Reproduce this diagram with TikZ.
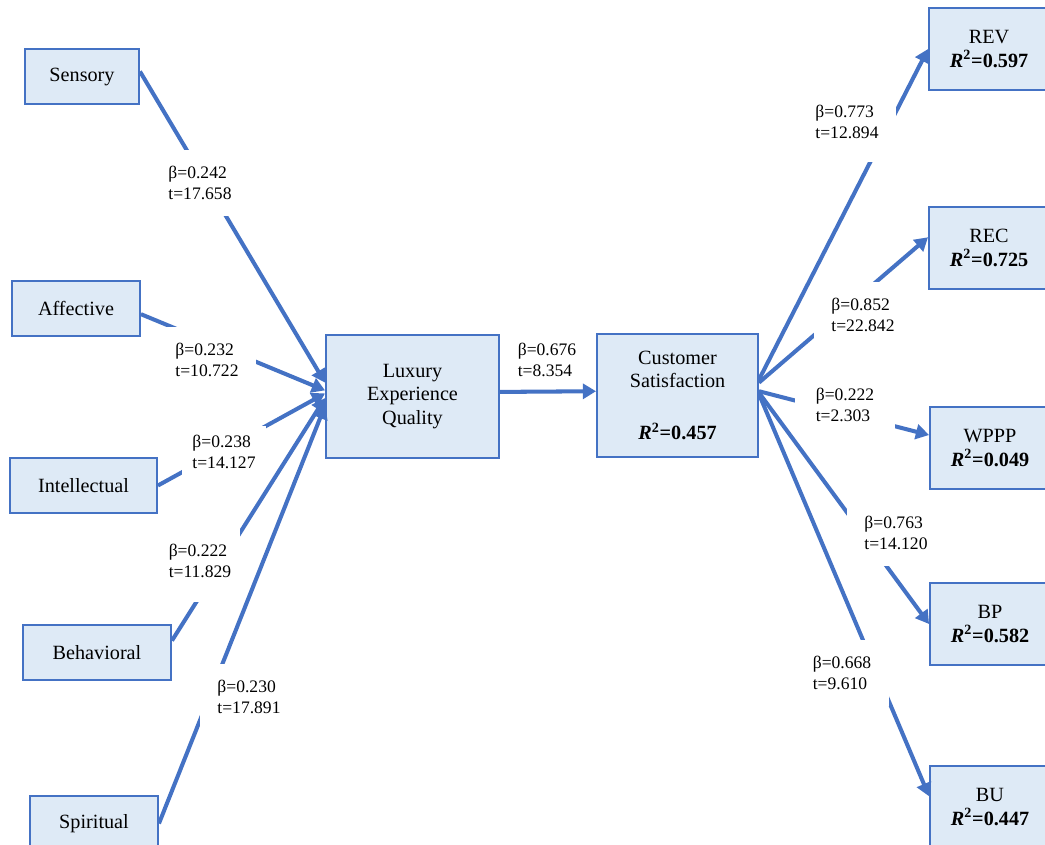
\documentclass[tikz,border=0pt]{standalone}
\usepackage[svgnames]{xcolor}
\usepackage{fontspec}
\setmainfont{Liberation Serif}
\usetikzlibrary{arrows.meta}
\definecolor{pathBlue}{HTML}{4472C4}
\definecolor{constructFill}{HTML}{DEEAF6}
\newcommand{\rsq}[1]{\textbf{\textit{R}\textsuperscript{2}=#1}}

\begin{document}
\begin{tikzpicture}[
  x=0.02cm,
  y=-0.02cm,
  construct/.style={
    draw=pathBlue,
    line width=1.1pt,
    fill=constructFill,
    align=center,
    font=\fontsize{11.5}{13.5}\selectfont,
    minimum height=1.1cm,
  },
  outcome/.style={
    construct,
    minimum width=2.4cm,
    minimum height=1.64cm,
  },
  coef/.style={
    fill=white,
    align=left,
    inner xsep=10pt,
    inner ysep=9pt,
    font=\fontsize{10}{12}\selectfont,
  },
  effect/.style={
    draw=pathBlue,
    line width=2.3pt,
    -{Triangle[length=7.5pt,width=8.5pt]},
  },
]
\useasboundingbox (0,0) rectangle (1045,845);
\node[construct,minimum width=2.28cm] (sens) at (82,76.5) {Sensory};
\node[construct,minimum width=2.56cm] (aff) at (76,308.5) {Affective};
\node[construct,minimum width=2.94cm] (intel) at (83.5,485.5) {Intellectual};
\node[construct,minimum width=2.96cm] (behav) at (97,652.5) {Behavioral};
\node[construct,minimum width=2.56cm] (spir) at (94,823.5) {Spiritual};
\node[construct,minimum width=3.46cm,minimum height=2.46cm] (leq) at (412.5,396.5) {Luxury\\Experience\\Quality};
\node[construct,minimum width=3.22cm,minimum height=2.46cm] (cs) at (677.5,395.5) {Customer\\Satisfaction\\[16pt]\rsq{0.457}};
\node[outcome] (rev) at (989,49) {REV\\\rsq{0.597}};
\node[outcome] (rec) at (989,248) {REC\\\rsq{0.725}};
\node[outcome] (wppp) at (990,448) {WPPP\\\rsq{0.049}};
\node[outcome] (bp) at (990,624) {BP\\\rsq{0.582}};
\node[outcome] (bu) at (990,807) {BU\\\rsq{0.447}};

\draw[effect] (sens.5) -- (leq.171);
\draw[effect] (aff.-5) -- (leq.176);
\draw[effect] (intel.east) -- (leq.178);
\draw[effect] (behav.9) -- (leq.181);
\draw[effect] (spir.east) -- (leq.186);
\draw[effect] (leq.3) -- (cs.177);
\draw[effect] (cs.11) -- (rev.west);
\draw[effect] (cs.9) -- (rec.170);
\draw[effect] (cs.3) -- (wppp.168);
\draw[effect] (cs.2) -- (bp.west);
\draw[effect] (cs.1) -- (bu.170);

\node[coef] (bSens) at (200,183) {β=0.242\\t=17.658};
\node[coef] (bAff) at (207,360) {β=0.232\\t=10.722};
\node[coef,inner xsep=6pt,inner ysep=5pt] (bIntel) at (224,452) {β=0.238\\t=14.127};
\node[coef,inner xsep=5pt,inner ysep=14pt] (bBehav) at (200,561) {β=0.222\\t=11.829};
\node[coef] (bSpir) at (249,697) {β=0.230\\t=17.891};
\node[coef,fill=none] (bLeq) at (547,360) {β=0.676\\t=8.354};
\node[coef,inner ysep=13pt] (bRev) at (847,122) {β=0.773\\t=12.894};
\node[coef] (bRec) at (863,315) {β=0.852\\t=22.842};
\node[coef,inner xsep=12pt,inner ysep=4pt] (bWppp) at (845,405) {β=0.222\\t=2.303};
\node[coef] (bBp) at (896,533) {β=0.763\\t=14.120};
\node[coef] (bBu) at (842,673) {β=0.668\\t=9.610};
\end{tikzpicture}
\end{document}
